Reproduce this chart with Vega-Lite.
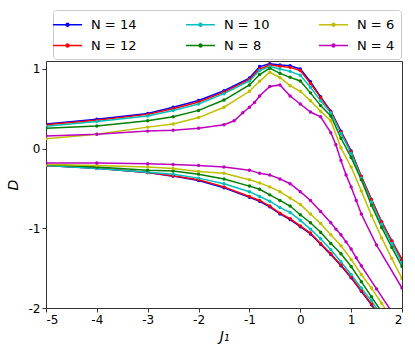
{
  "$schema": "https://vega.github.io/schema/vega-lite/v6.json",
  "width": 356,
  "height": 247,
  "autosize": "none",
  "padding": {"left": 46, "top": 61, "right": 13, "bottom": 48},
  "config": {
    "font": "DejaVu Sans",
    "view": {"stroke": "#333", "strokeWidth": 1},
    "axis": {"grid": false, "domain": false, "tickColor": "#333", "tickSize": 4, "labelFontSize": 12, "labelColor": "#000", "titleFontSize": 14, "titleFontWeight": "normal", "titleFontStyle": "italic", "titleColor": "#000"}
  },
  "datasets": {
    "d": [
      {"N":"14","b":"u","x":-5,"y":0.31},{"N":"14","b":"u","x":-4,"y":0.37},{"N":"14","b":"u","x":-3,"y":0.44},{"N":"14","b":"u","x":-2.5,"y":0.52},{"N":"14","b":"u","x":-2,"y":0.605},{"N":"14","b":"u","x":-1.5,"y":0.727},{"N":"14","b":"u","x":-1,"y":0.886},{"N":"14","b":"u","x":-0.8,"y":1.03},{"N":"14","b":"u","x":-0.6,"y":1.065},{"N":"14","b":"u","x":-0.4,"y":1.05},{"N":"14","b":"u","x":-0.2,"y":1.04},{"N":"14","b":"u","x":0,"y":1.0},{"N":"14","b":"u","x":0.2,"y":0.84},{"N":"14","b":"u","x":0.4,"y":0.65},{"N":"14","b":"u","x":0.6,"y":0.47},{"N":"14","b":"u","x":0.8,"y":0.22},{"N":"14","b":"u","x":1,"y":-0.03},{"N":"14","b":"u","x":1.2,"y":-0.35},{"N":"14","b":"u","x":1.4,"y":-0.64},{"N":"14","b":"u","x":1.6,"y":-0.92},{"N":"14","b":"u","x":1.8,"y":-1.16},{"N":"14","b":"u","x":2,"y":-1.4},
      {"N":"14","b":"l","x":-5,"y":-0.21},{"N":"14","b":"l","x":-4,"y":-0.245},{"N":"14","b":"l","x":-3,"y":-0.3},{"N":"14","b":"l","x":-2.5,"y":-0.345},{"N":"14","b":"l","x":-2,"y":-0.4},{"N":"14","b":"l","x":-1.5,"y":-0.49},{"N":"14","b":"l","x":-1,"y":-0.61},{"N":"14","b":"l","x":-0.8,"y":-0.66},{"N":"14","b":"l","x":-0.6,"y":-0.73},{"N":"14","b":"l","x":-0.4,"y":-0.82},{"N":"14","b":"l","x":-0.2,"y":-0.89},{"N":"14","b":"l","x":0,"y":-0.98},{"N":"14","b":"l","x":0.2,"y":-1.07},{"N":"14","b":"l","x":0.4,"y":-1.2},{"N":"14","b":"l","x":0.6,"y":-1.33},{"N":"14","b":"l","x":0.8,"y":-1.47},{"N":"14","b":"l","x":1,"y":-1.62},{"N":"14","b":"l","x":1.2,"y":-1.79},{"N":"14","b":"l","x":1.4,"y":-1.96},{"N":"14","b":"l","x":1.6,"y":-2.16},
      {"N":"12","b":"u","x":-5,"y":0.3},{"N":"12","b":"u","x":-4,"y":0.355},{"N":"12","b":"u","x":-3,"y":0.43},{"N":"12","b":"u","x":-2.5,"y":0.5},{"N":"12","b":"u","x":-2,"y":0.585},{"N":"12","b":"u","x":-1.5,"y":0.71},{"N":"12","b":"u","x":-1,"y":0.87},{"N":"12","b":"u","x":-0.8,"y":1.0},{"N":"12","b":"u","x":-0.6,"y":1.05},{"N":"12","b":"u","x":-0.4,"y":1.035},{"N":"12","b":"u","x":-0.2,"y":1.02},{"N":"12","b":"u","x":0,"y":0.98},{"N":"12","b":"u","x":0.2,"y":0.82},{"N":"12","b":"u","x":0.4,"y":0.64},{"N":"12","b":"u","x":0.6,"y":0.46},{"N":"12","b":"u","x":0.8,"y":0.21},{"N":"12","b":"u","x":1,"y":-0.04},{"N":"12","b":"u","x":1.2,"y":-0.35},{"N":"12","b":"u","x":1.4,"y":-0.64},{"N":"12","b":"u","x":1.6,"y":-0.92},{"N":"12","b":"u","x":1.8,"y":-1.16},{"N":"12","b":"u","x":2,"y":-1.39},
      {"N":"12","b":"l","x":-5,"y":-0.21},{"N":"12","b":"l","x":-4,"y":-0.245},{"N":"12","b":"l","x":-3,"y":-0.3},{"N":"12","b":"l","x":-2.5,"y":-0.34},{"N":"12","b":"l","x":-2,"y":-0.39},{"N":"12","b":"l","x":-1.5,"y":-0.48},{"N":"12","b":"l","x":-1,"y":-0.6},{"N":"12","b":"l","x":-0.8,"y":-0.65},{"N":"12","b":"l","x":-0.6,"y":-0.72},{"N":"12","b":"l","x":-0.4,"y":-0.81},{"N":"12","b":"l","x":-0.2,"y":-0.88},{"N":"12","b":"l","x":0,"y":-0.97},{"N":"12","b":"l","x":0.2,"y":-1.06},{"N":"12","b":"l","x":0.4,"y":-1.19},{"N":"12","b":"l","x":0.6,"y":-1.32},{"N":"12","b":"l","x":0.8,"y":-1.46},{"N":"12","b":"l","x":1,"y":-1.61},{"N":"12","b":"l","x":1.2,"y":-1.78},{"N":"12","b":"l","x":1.4,"y":-1.95},{"N":"12","b":"l","x":1.6,"y":-2.15},
      {"N":"10","b":"u","x":-5,"y":0.28},{"N":"10","b":"u","x":-4,"y":0.34},{"N":"10","b":"u","x":-3,"y":0.41},{"N":"10","b":"u","x":-2.5,"y":0.48},{"N":"10","b":"u","x":-2,"y":0.56},{"N":"10","b":"u","x":-1.5,"y":0.69},{"N":"10","b":"u","x":-1,"y":0.85},{"N":"10","b":"u","x":-0.8,"y":0.98},{"N":"10","b":"u","x":-0.6,"y":1.03},{"N":"10","b":"u","x":-0.4,"y":1.0},{"N":"10","b":"u","x":-0.2,"y":0.97},{"N":"10","b":"u","x":0,"y":0.92},{"N":"10","b":"u","x":0.2,"y":0.77},{"N":"10","b":"u","x":0.4,"y":0.6},{"N":"10","b":"u","x":0.6,"y":0.45},{"N":"10","b":"u","x":0.8,"y":0.19},{"N":"10","b":"u","x":1,"y":-0.06},{"N":"10","b":"u","x":1.2,"y":-0.37},{"N":"10","b":"u","x":1.4,"y":-0.67},{"N":"10","b":"u","x":1.6,"y":-0.95},{"N":"10","b":"u","x":1.8,"y":-1.19},{"N":"10","b":"u","x":2,"y":-1.43},
      {"N":"10","b":"l","x":-5,"y":-0.21},{"N":"10","b":"l","x":-4,"y":-0.25},{"N":"10","b":"l","x":-3,"y":-0.295},{"N":"10","b":"l","x":-2.5,"y":-0.32},{"N":"10","b":"l","x":-2,"y":-0.37},{"N":"10","b":"l","x":-1.5,"y":-0.44},{"N":"10","b":"l","x":-1,"y":-0.54},{"N":"10","b":"l","x":-0.8,"y":-0.6},{"N":"10","b":"l","x":-0.6,"y":-0.66},{"N":"10","b":"l","x":-0.4,"y":-0.74},{"N":"10","b":"l","x":-0.2,"y":-0.8},{"N":"10","b":"l","x":0,"y":-0.9},{"N":"10","b":"l","x":0.2,"y":-1.01},{"N":"10","b":"l","x":0.4,"y":-1.13},{"N":"10","b":"l","x":0.6,"y":-1.27},{"N":"10","b":"l","x":0.8,"y":-1.42},{"N":"10","b":"l","x":1,"y":-1.58},{"N":"10","b":"l","x":1.2,"y":-1.75},{"N":"10","b":"l","x":1.4,"y":-1.91},{"N":"10","b":"l","x":1.6,"y":-2.1},
      {"N":"8","b":"u","x":-5,"y":0.255},{"N":"8","b":"u","x":-4,"y":0.285},{"N":"8","b":"u","x":-3,"y":0.35},{"N":"8","b":"u","x":-2.5,"y":0.4},{"N":"8","b":"u","x":-2,"y":0.48},{"N":"8","b":"u","x":-1.5,"y":0.61},{"N":"8","b":"u","x":-1,"y":0.8},{"N":"8","b":"u","x":-0.8,"y":0.93},{"N":"8","b":"u","x":-0.6,"y":1.01},{"N":"8","b":"u","x":-0.4,"y":0.945},{"N":"8","b":"u","x":-0.2,"y":0.895},{"N":"8","b":"u","x":0,"y":0.85},{"N":"8","b":"u","x":0.2,"y":0.7},{"N":"8","b":"u","x":0.4,"y":0.54},{"N":"8","b":"u","x":0.6,"y":0.41},{"N":"8","b":"u","x":0.8,"y":0.13},{"N":"8","b":"u","x":1,"y":-0.11},{"N":"8","b":"u","x":1.2,"y":-0.39},{"N":"8","b":"u","x":1.4,"y":-0.71},{"N":"8","b":"u","x":1.6,"y":-0.99},{"N":"8","b":"u","x":1.8,"y":-1.24},{"N":"8","b":"u","x":2,"y":-1.48},
      {"N":"8","b":"l","x":-5,"y":-0.2},{"N":"8","b":"l","x":-4,"y":-0.23},{"N":"8","b":"l","x":-3,"y":-0.27},{"N":"8","b":"l","x":-2.5,"y":-0.28},{"N":"8","b":"l","x":-2,"y":-0.32},{"N":"8","b":"l","x":-1.5,"y":-0.38},{"N":"8","b":"l","x":-1,"y":-0.47},{"N":"8","b":"l","x":-0.8,"y":-0.51},{"N":"8","b":"l","x":-0.6,"y":-0.58},{"N":"8","b":"l","x":-0.4,"y":-0.65},{"N":"8","b":"l","x":-0.2,"y":-0.72},{"N":"8","b":"l","x":0,"y":-0.83},{"N":"8","b":"l","x":0.2,"y":-0.93},{"N":"8","b":"l","x":0.4,"y":-1.05},{"N":"8","b":"l","x":0.6,"y":-1.19},{"N":"8","b":"l","x":0.8,"y":-1.32},{"N":"8","b":"l","x":1,"y":-1.48},{"N":"8","b":"l","x":1.2,"y":-1.67},{"N":"8","b":"l","x":1.4,"y":-1.86},{"N":"8","b":"l","x":1.6,"y":-2.05},{"N":"8","b":"l","x":1.8,"y":-2.25},
      {"N":"6","b":"u","x":-5,"y":0.125},{"N":"6","b":"u","x":-4,"y":0.18},{"N":"6","b":"u","x":-3,"y":0.27},{"N":"6","b":"u","x":-2.5,"y":0.31},{"N":"6","b":"u","x":-2,"y":0.39},{"N":"6","b":"u","x":-1.5,"y":0.52},{"N":"6","b":"u","x":-1,"y":0.72},{"N":"6","b":"u","x":-0.8,"y":0.845},{"N":"6","b":"u","x":-0.6,"y":0.96},{"N":"6","b":"u","x":-0.4,"y":0.89},{"N":"6","b":"u","x":-0.2,"y":0.79},{"N":"6","b":"u","x":0,"y":0.72},{"N":"6","b":"u","x":0.2,"y":0.6},{"N":"6","b":"u","x":0.4,"y":0.47},{"N":"6","b":"u","x":0.6,"y":0.35},{"N":"6","b":"u","x":0.8,"y":0.01},{"N":"6","b":"u","x":1,"y":-0.23},{"N":"6","b":"u","x":1.2,"y":-0.53},{"N":"6","b":"u","x":1.4,"y":-0.84},{"N":"6","b":"u","x":1.6,"y":-1.12},{"N":"6","b":"u","x":1.8,"y":-1.38},{"N":"6","b":"u","x":2,"y":-1.63},
      {"N":"6","b":"l","x":-5,"y":-0.2},{"N":"6","b":"l","x":-4,"y":-0.21},{"N":"6","b":"l","x":-3,"y":-0.23},{"N":"6","b":"l","x":-2.5,"y":-0.25},{"N":"6","b":"l","x":-2,"y":-0.286},{"N":"6","b":"l","x":-1.5,"y":-0.31},{"N":"6","b":"l","x":-1,"y":-0.39},{"N":"6","b":"l","x":-0.8,"y":-0.43},{"N":"6","b":"l","x":-0.6,"y":-0.48},{"N":"6","b":"l","x":-0.4,"y":-0.54},{"N":"6","b":"l","x":-0.2,"y":-0.62},{"N":"6","b":"l","x":0,"y":-0.7},{"N":"6","b":"l","x":0.2,"y":-0.82},{"N":"6","b":"l","x":0.4,"y":-0.94},{"N":"6","b":"l","x":0.6,"y":-1.08},{"N":"6","b":"l","x":0.8,"y":-1.22},{"N":"6","b":"l","x":1,"y":-1.39},{"N":"6","b":"l","x":1.2,"y":-1.58},{"N":"6","b":"l","x":1.4,"y":-1.75},{"N":"6","b":"l","x":1.6,"y":-1.94},{"N":"6","b":"l","x":1.8,"y":-2.14},
      {"N":"4","b":"u","x":-5,"y":0.16},{"N":"4","b":"u","x":-4,"y":0.18},{"N":"4","b":"u","x":-3,"y":0.22},{"N":"4","b":"u","x":-2.5,"y":0.23},{"N":"4","b":"u","x":-2,"y":0.256},{"N":"4","b":"u","x":-1.5,"y":0.3},{"N":"4","b":"u","x":-1.3,"y":0.35},{"N":"4","b":"u","x":-1.13,"y":0.45},{"N":"4","b":"u","x":-1,"y":0.52},{"N":"4","b":"u","x":-0.9,"y":0.58},{"N":"4","b":"u","x":-0.8,"y":0.66},{"N":"4","b":"u","x":-0.6,"y":0.78},{"N":"4","b":"u","x":-0.4,"y":0.8},{"N":"4","b":"u","x":-0.2,"y":0.66},{"N":"4","b":"u","x":0,"y":0.56},{"N":"4","b":"u","x":0.2,"y":0.46},{"N":"4","b":"u","x":0.4,"y":0.4},{"N":"4","b":"u","x":0.6,"y":0.2},{"N":"4","b":"u","x":0.7,"y":0.05},{"N":"4","b":"u","x":0.8,"y":-0.15},{"N":"4","b":"u","x":0.9,"y":-0.33},{"N":"4","b":"u","x":1,"y":-0.48},{"N":"4","b":"u","x":1.1,"y":-0.65},{"N":"4","b":"u","x":1.2,"y":-0.82},{"N":"4","b":"u","x":1.5,"y":-1.21},{"N":"4","b":"u","x":2,"y":-1.75},
      {"N":"4","b":"l","x":-5,"y":-0.18},{"N":"4","b":"l","x":-4,"y":-0.18},{"N":"4","b":"l","x":-3,"y":-0.19},{"N":"4","b":"l","x":-2.5,"y":-0.2},{"N":"4","b":"l","x":-2,"y":-0.21},{"N":"4","b":"l","x":-1.5,"y":-0.23},{"N":"4","b":"l","x":-1,"y":-0.27},{"N":"4","b":"l","x":-0.8,"y":-0.31},{"N":"4","b":"l","x":-0.6,"y":-0.33},{"N":"4","b":"l","x":-0.4,"y":-0.38},{"N":"4","b":"l","x":-0.2,"y":-0.44},{"N":"4","b":"l","x":0,"y":-0.54},{"N":"4","b":"l","x":0.2,"y":-0.65},{"N":"4","b":"l","x":0.4,"y":-0.79},{"N":"4","b":"l","x":0.6,"y":-0.93},{"N":"4","b":"l","x":0.7,"y":-1.01},{"N":"4","b":"l","x":0.8,"y":-1.08},{"N":"4","b":"l","x":0.9,"y":-1.17},{"N":"4","b":"l","x":1,"y":-1.26},{"N":"4","b":"l","x":1.1,"y":-1.37},{"N":"4","b":"l","x":1.2,"y":-1.47},{"N":"4","b":"l","x":1.5,"y":-1.76},{"N":"4","b":"l","x":1.8,"y":-2.05}
    ]
  },
  "data": {"name": "d"},
  "mark": {"type": "line", "clip": true, "strokeWidth": 1.5, "point": {"filled": true, "size": 12}},
  "encoding": {
    "x": {"field": "x", "type": "quantitative", "scale": {"domain": [-5, 2], "nice": false, "zero": false}, "axis": {"values": [-5, -4, -3, -2, -1, 0, 1, 2], "labelExpr": "'' + datum.value", "title": "J₁", "titlePadding": 4}},
    "y": {"field": "y", "type": "quantitative", "scale": {"domain": [-2, 1.1], "nice": false, "zero": false}, "axis": {"values": [-2, -1, 0, 1], "labelExpr": "'' + datum.value", "title": "D", "titlePadding": 8}},
    "color": {"field": "N", "type": "nominal", "sort": null,
      "scale": {"domain": ["14", "10", "6", "12", "8", "4"], "range": ["#0000ff", "#00bfbf", "#bfbf00", "#ff0000", "#008000", "#bf00bf"]},
      "legend": {"title": null, "orient": "none", "legendX": 7, "legendY": -51, "direction": "horizontal", "columns": 3, "columnPadding": 46, "rowPadding": 5, "labelExpr": "'N = ' + datum.label", "labelFontSize": 13, "labelOffset": 15, "symbolType": "M-1.93,0H1.93M-0.2,0A0.2,0.2,0,1,1,0.2,0A0.2,0.2,0,1,1,-0.2,0Z", "symbolSize": 225, "symbolStrokeWidth": 1.5, "strokeColor": "#cccccc", "cornerRadius": 3, "padding": 6, "fillColor": "#ffffff"}},
    "detail": {"field": "b", "type": "nominal"}
  }
}
